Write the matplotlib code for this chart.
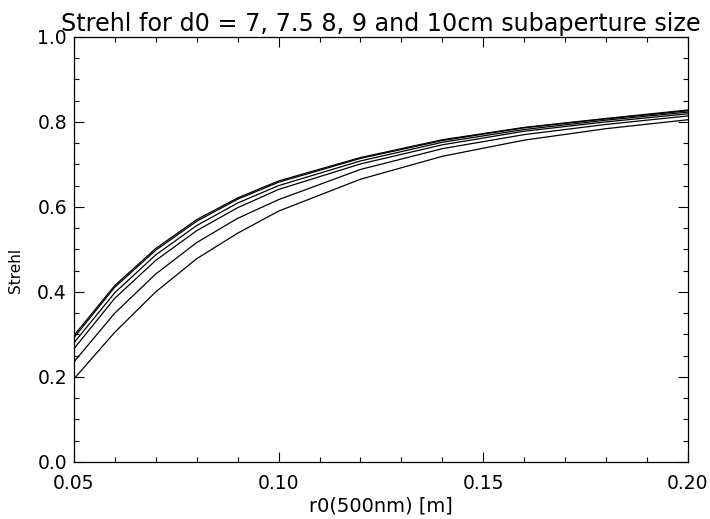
import matplotlib
matplotlib.use("Agg")
import matplotlib.pyplot as plt
from matplotlib.ticker import MultipleLocator, FormatStrFormatter

# r0 values (m) where the Strehl was computed
r0 = [0.05, 0.06, 0.07, 0.08, 0.09, 0.10, 0.12, 0.14, 0.16, 0.18, 0.20]

# Strehl for each subaperture size (top to bottom)
strehl_a = [0.297, 0.415, 0.502, 0.570, 0.621, 0.661, 0.716, 0.758, 0.787, 0.808, 0.828]
strehl_b = [0.292, 0.411, 0.498, 0.566, 0.618, 0.658, 0.714, 0.756, 0.786, 0.807, 0.826]
strehl_c = [0.280, 0.398, 0.487, 0.556, 0.609, 0.650, 0.708, 0.752, 0.782, 0.804, 0.823]
strehl_d = [0.266, 0.385, 0.474, 0.544, 0.598, 0.641, 0.701, 0.746, 0.778, 0.800, 0.819]
strehl_e = [0.235, 0.350, 0.442, 0.516, 0.573, 0.617, 0.688, 0.737, 0.770, 0.794, 0.814]
strehl_f = [0.195, 0.305, 0.400, 0.478, 0.538, 0.590, 0.665, 0.719, 0.757, 0.784, 0.805]

curves = [strehl_a, strehl_b, strehl_c, strehl_d, strehl_e, strehl_f]

plt.rcParams['font.family'] = 'DejaVu Sans'
plt.rcParams['font.size'] = 13.5

fig = plt.figure(figsize=(7.10, 5.19), dpi=100)
ax = fig.add_axes([0.104, 0.110, 0.865, 0.819])

for s in curves:
    ax.plot(r0, s, color="black", linewidth=0.9)

ax.set_xlim(0.05, 0.20)
ax.set_ylim(0.0, 1.0)
ax.xaxis.set_major_locator(MultipleLocator(0.05))
ax.xaxis.set_minor_locator(MultipleLocator(0.01))
ax.yaxis.set_major_locator(MultipleLocator(0.2))
ax.yaxis.set_minor_locator(MultipleLocator(0.05))
ax.xaxis.set_major_formatter(FormatStrFormatter("%.2f"))
ax.yaxis.set_major_formatter(FormatStrFormatter("%.1f"))

ax.tick_params(which="both", direction="in", top=True, right=True, width=0.8)
ax.tick_params(which="major", length=7)
ax.tick_params(axis="x", which="major", pad=9)
ax.tick_params(axis="y", which="major", pad=5)
ax.tick_params(which="minor", length=3.5)
for sp in ax.spines.values():
    sp.set_linewidth(0.9)

ax.set_xlabel("r0(500nm) [m]", fontsize=14, labelpad=2)
ax.set_ylabel("Strehl", fontsize=11)
ax.yaxis.set_label_coords(-0.082, 0.45)
ax.set_title("Strehl for d0 = 7, 7.5 8, 9 and 10cm subaperture size", fontsize=17.2, pad=4)

fig.savefig("out.png", dpi=100)
